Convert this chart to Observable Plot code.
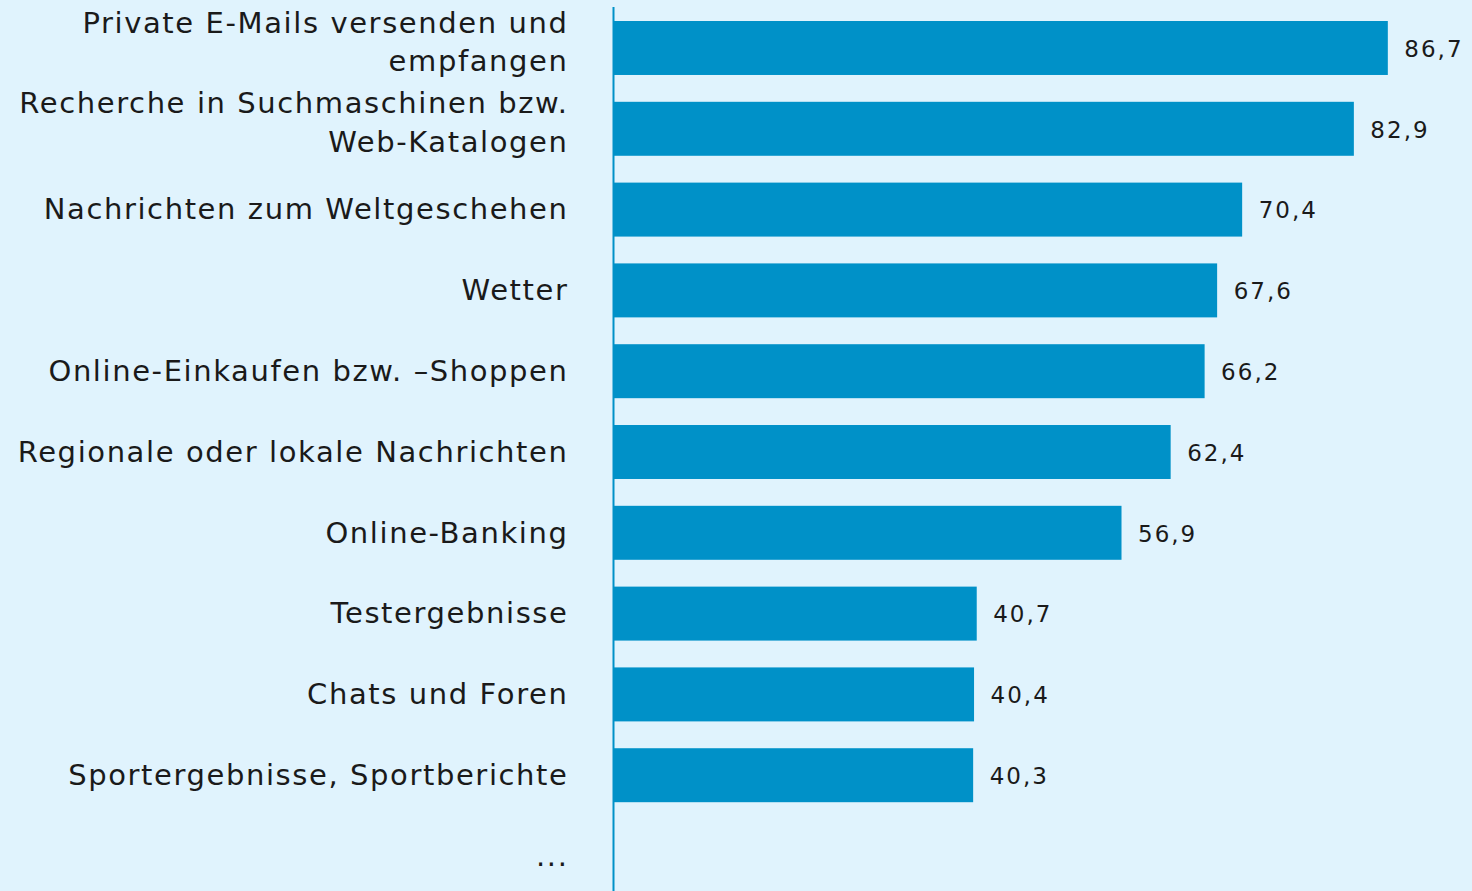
<!DOCTYPE html>
<html>
<head>
<meta charset="utf-8">
<script src="https://cdn.jsdelivr.net/npm/d3@7"></script>
<script src="https://cdn.jsdelivr.net/npm/@observablehq/plot@0.6"></script>
<style>
  html, body { margin: 0; padding: 0; background: #e0f3fd; }
  #chart svg { display: block; }
</style>
</head>
<body>
<div id="chart"></div>
<script>
const categories = [
  "Private E-Mails versenden und\nempfangen",
  "Recherche in Suchmaschinen bzw.\nWeb-Katalogen",
  "Nachrichten zum Weltgeschehen",
  "Wetter",
  "Online-Einkaufen bzw. –Shoppen",
  "Regionale oder lokale Nachrichten",
  "Online-Banking",
  "Testergebnisse",
  "Chats und Foren",
  "Sportergebnisse, Sportberichte",
  "..."
];
const values = [86.7, 82.9, 70.4, 67.6, 66.2, 62.4, 56.9, 40.7, 40.4, 40.3, null];

const data = categories.map((c, i) => ({category: c, value: values[i]}));
const bars = data.filter(d => d.value != null);
const multi = data.filter(d => d.category.includes("\n"));
const single = data.filter(d => !d.category.includes("\n"));
const fmt = v => v.toLocaleString("de-DE", {minimumFractionDigits: 1, maximumFractionDigits: 1});

const chart = Plot.plot({
  width: 1472,
  height: 891,
  marginLeft: 613,
  marginRight: 10,
  marginTop: 21,
  marginBottom: 8,
  style: {background: "#e0f3fd", fontFamily: "DejaVu Sans", color: "#1a1a1a"},
  x: {domain: [0, 95], axis: null},
  y: {domain: categories, paddingInner: 0.332, paddingOuter: 0, round: false, axis: null},
  marks: [
    Plot.barX(bars, {x: "value", y: "category", fill: "#0091c8"}),
    Plot.text(bars, {x: "value", y: "category", text: d => fmt(d.value), textAnchor: "start", dx: 16, dy: 1, fontSize: 23, fill: "#1a1a1a", className: "vals"}),
    Plot.text(single, {x: 0, y: "category", text: "category", textAnchor: "end", dx: -45, fontSize: 29, fill: "#1a1a1a", className: "labs"}),
    Plot.text(multi, {x: 0, y: "category", text: "category", textAnchor: "end", dx: -45, dy: -9, fontSize: 29, lineHeight: 1.34, fill: "#1a1a1a", className: "labs"}),
    Plot.ruleX([0], {stroke: "#0091c8", strokeWidth: 2, insetTop: -14, insetBottom: -8})
  ]
});
d3.select(chart).selectAll(".vals text, g.vals text").style("letter-spacing", "2px");
d3.select(chart).selectAll(".labs text, g.labs text").style("letter-spacing", "1.6px");
document.getElementById("chart").appendChild(chart);
</script>
</body>
</html>
